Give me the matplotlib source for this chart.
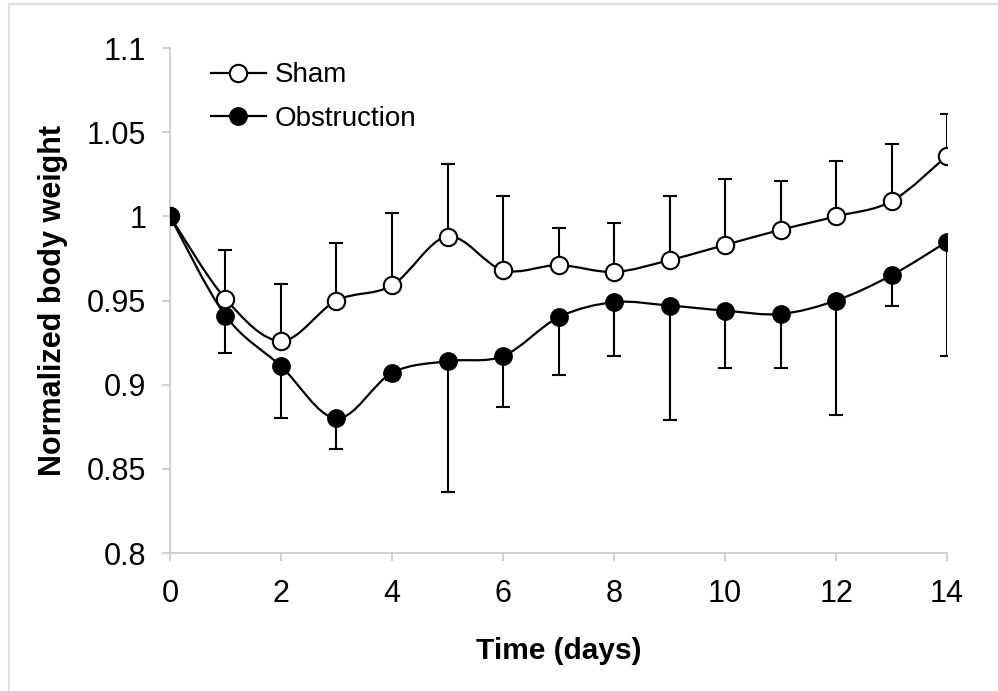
import numpy as np
import matplotlib
matplotlib.use('Agg')
import matplotlib.pyplot as plt
from matplotlib.path import Path
from matplotlib.patches import PathPatch
from matplotlib.lines import Line2D

plt.rcParams['font.family'] = ['Liberation Sans', 'DejaVu Sans']

# data
days = [0, 1, 2, 3, 4, 5, 6, 7, 8, 9, 10, 11, 12, 13, 14]
sham = [1.0, 0.951, 0.926, 0.950, 0.959, 0.988, 0.968, 0.971, 0.967,
        0.974, 0.983, 0.992, 1.0, 1.009, 1.036]
sham_top = [1.0, 0.980, 0.960, 0.984, 1.002, 1.031, 1.012, 0.993, 0.996,
            1.012, 1.022, 1.021, 1.033, 1.043, 1.061]
obst = [1.0, 0.941, 0.911, 0.880, 0.907, 0.914, 0.917, 0.940, 0.949,
        0.947, 0.944, 0.942, 0.950, 0.965, 0.985]
obst_bottom = [1.0, 0.919, 0.880, 0.862, 0.903, 0.836, 0.887, 0.906, 0.917,
               0.879, 0.910, 0.910, 0.882, 0.947, 0.917]


def smooth_path(x, y):
    # Excel-like smoothed line: cubic Bezier with Catmull-Rom control points
    p = np.column_stack([x, y]).astype(float)
    ext = np.vstack([p[0], p, p[-1]])
    verts = [p[0]]
    codes = [Path.MOVETO]
    for i in range(len(p) - 1):
        p0, p1, p2, p3 = ext[i], ext[i + 1], ext[i + 2], ext[i + 3]
        c1 = p1 + (p2 - p0) / 6.0
        c2 = p2 - (p3 - p1) / 6.0
        verts += [c1, c2, p2]
        codes += [Path.CURVE4] * 3
    return Path(verts, codes)


fig = plt.figure(figsize=(9.98, 6.91), dpi=100)
ax = fig.add_axes([0.1703, 0.1997, 0.7787, 0.7308])

lw = 1.6
ms = 12.5

# obstruction (behind)
err_o = np.array(obst) - np.array(obst_bottom)
ax.errorbar(days[1:], obst[1:], yerr=[err_o[1:], np.zeros(len(days) - 1)],
            fmt='none', ecolor='black', elinewidth=1.5, capsize=5, capthick=1.5, zorder=2)
ax.add_patch(PathPatch(smooth_path(days, obst), facecolor='none', edgecolor='black',
                       lw=lw, zorder=3))
ax.plot(days, obst, 'o', color='black', ms=ms, mec='black', zorder=4)

# sham (front)
err_s = np.array(sham_top) - np.array(sham)
ax.errorbar(days[1:], sham[1:], yerr=[np.zeros(len(days) - 1), err_s[1:]],
            fmt='none', ecolor='black', elinewidth=1.5, capsize=5, capthick=1.5, zorder=5)
ax.add_patch(PathPatch(smooth_path(days, sham), facecolor='none', edgecolor='black',
                       lw=lw, zorder=6))
ax.plot(days, sham, 'o', color='black', ms=ms, mfc='white', mec='black', mew=1.5, zorder=7)
# obstruction day 0 marker sits on top in the original
ax.plot(days[:1], obst[:1], 'o', color='black', ms=ms, zorder=8)

ax.set_xlim(0, 14)
ax.set_ylim(0.8, 1.1)
ax.set_xticks(range(0, 15, 2))
ax.set_yticks([0.8, 0.85, 0.9, 0.95, 1.0, 1.05, 1.1])
ax.set_yticklabels(['0.8', '0.85', '0.9', '0.95', '1', '1.05', '1.1'])

for s in ['top', 'right']:
    ax.spines[s].set_visible(False)
for s in ['left', 'bottom']:
    ax.spines[s].set_color('#c8c8c8')
    ax.spines[s].set_linewidth(1.2)
ax.tick_params(axis='both', direction='out', length=6, width=1.2, color='#c8c8c8',
               labelsize=22)
ax.tick_params(axis='y', pad=11)
ax.tick_params(axis='x', pad=13)

ax.set_xlabel('Time (days)', fontsize=21.5, fontweight='bold', labelpad=20)
ax.set_ylabel('Normalized body weight', fontsize=22, fontweight='bold', labelpad=14)

handles = [
    Line2D([], [], color='black', lw=lw, marker='o', ms=ms, mfc='white', mew=1.5),
    Line2D([], [], color='black', lw=lw, marker='o', ms=ms, mfc='black'),
]
ax.legend(handles, ['Sham', 'Obstruction'], loc='upper left', bbox_to_anchor=(0.02, 1.021),
          frameon=False, fontsize=20, handlelength=2.0, handletextpad=0.3,
          labelspacing=0.62)

# light chart-area border (left and top only are visible)
fig.add_artist(Line2D([0.0095, 0.0095], [0, 0.9935], transform=fig.transFigure,
                      color='#e0e0e0', lw=1.5))
fig.add_artist(Line2D([0.0095, 1.0], [0.9935, 0.9935], transform=fig.transFigure,
                      color='#e0e0e0', lw=1.5))

fig.savefig('out.png', dpi=100)
